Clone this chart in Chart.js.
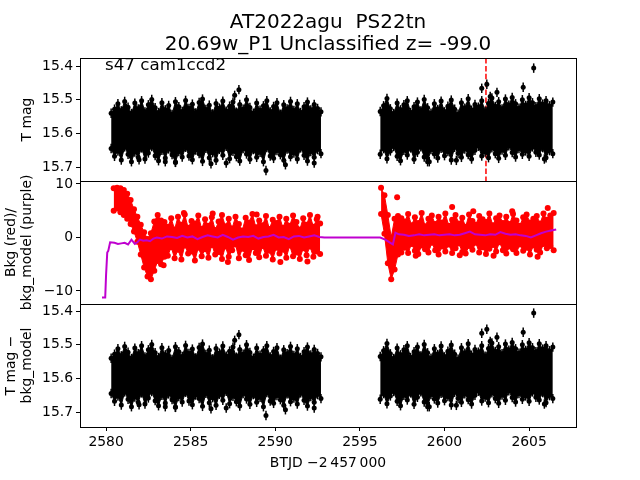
<!DOCTYPE html>
<html><head><meta charset="utf-8">
<script src="https://cdn.jsdelivr.net/npm/chart.js@4"></script>
<style>html,body{margin:0;padding:0;background:#fff}</style>
</head><body>
<canvas id="c" width="640" height="480"></canvas>
<script>
// ---------------- data ----------------
const titleLines = ['AT2022agu  PS22tn', '20.69w_P1 Unclassified z= -99.0'];
const fieldLabel = 's47 cam1ccd2';
const xTitle = 'BTJD \u22122\u2009457\u2009000';
const magTitle = ['', 'T mag'];
const bkgTitle = ['Bkg (red)/', 'bkg_model (purple)'];
const diffTitle = ['T mag \u2212', 'bkg_model'];
const xTicks = [2580, 2585, 2590, 2595, 2600, 2605];
const magTicks = [15.4, 15.5, 15.6, 15.7];
const bkgTicks = [-10, 0, 10];
const markerTime = 2602.45;

// light curve: bins of 0.2 d, brightest / faintest point centres per bin
const binStep = 0.2;
const magStartA = 2580.3, magStartB = 2596.2;
const magUpperA = [15.540,15.528,15.512,15.533,15.505,15.522,15.541,15.510,15.527,15.503,
15.536,15.515,15.499,15.524,15.538,15.509,15.530,15.517,15.544,15.506,
15.521,15.535,15.502,15.526,15.513,15.539,15.508,15.498,15.529,15.516,
15.542,15.511,15.525,15.504,15.534,15.519,15.507,15.537,15.514,15.528,
15.500,15.523,15.540,15.510,15.531,15.518,15.503,15.536,15.520,15.509,
15.543,15.515,15.527,15.505,15.532,15.512,15.538,15.521,15.507,15.530,
15.514,15.526,15.536];
const magLowerA = [15.645,15.668,15.652,15.679,15.640,15.662,15.684,15.655,15.671,15.643,
15.676,15.658,15.639,15.666,15.681,15.650,15.673,15.646,15.663,15.685,
15.654,15.670,15.641,15.667,15.678,15.649,15.660,15.683,15.644,15.672,
15.657,15.680,15.647,15.665,15.638,15.675,15.653,15.669,15.682,15.645,
15.661,15.677,15.648,15.671,15.656,15.684,15.642,15.667,15.674,15.651,
15.663,15.680,15.646,15.669,15.658,15.676,15.643,15.665,15.682,15.654,
15.671,15.648,15.660];
const magUpperB = [15.535,15.518,15.496,15.527,15.541,15.510,15.530,15.515,15.503,15.538,
15.521,15.507,15.533,15.499,15.524,15.540,15.512,15.529,15.504,15.536,
15.519,15.501,15.528,15.543,15.509,15.525,15.497,15.531,15.514,15.522,
15.503,15.534,15.511,15.495,15.520,15.506,15.527,15.498,15.516,15.493,
15.512,15.525,15.500,15.517,15.494,15.509,15.521,15.497,15.513,15.503,
15.518,15.507];
const magLowerB = [15.662,15.645,15.675,15.652,15.639,15.668,15.681,15.650,15.664,15.643,
15.677,15.656,15.640,15.670,15.684,15.648,15.661,15.673,15.644,15.666,
15.654,15.679,15.641,15.659,15.671,15.646,15.663,15.676,15.650,15.638,
15.667,15.655,15.672,15.643,15.660,15.674,15.649,15.665,15.637,15.657,
15.670,15.645,15.662,15.652,15.668,15.640,15.656,15.664,15.642,15.672,
15.651,15.660];
const magErr = 0.014;
const outT   = [2587.6,2587.85,2581.95,2586.2,2587.1,2589.45,2590.6,2592.3,2583.5,2584.1,2599.1,2600.7,2605.9,2605.27,2604.65,2602.5,2602.2,2603.1,2602.7];
const outMag = [15.487,15.470,15.678,15.690,15.688,15.710,15.693,15.688,15.684,15.686,15.684,15.680,15.676,15.406,15.463,15.454,15.466,15.478,15.490];

// background: bins of 0.2 d, highest / lowest point centres per bin
const bkgStartA = 2580.45, bkgStartB = 2596.25;
const bkgUpperA = [9.2,9.3,9.2,8.9,8.2,7.0,5.3,3.9,2.4,1.0,-0.3,0.8,3.0,4.2,3.2,2.9,
2.0,3.6,1.5,3.9,2.4,4.3,1.8,3.1,2.6,4.1,
1.6,3.4,2.2,3.8,1.4,3.0,4.2,2.1,3.5,1.7,
3.9,2.5,1.3,3.7,2.8,4.4,1.9,3.2,2.3,4.0,
1.6,3.3,2.7,3.9,1.8,3.5,2.2,4.1,2.9,1.5,
3.6,2.4,4.2,2.0,3.4,2.6];
const bkgLowerA = [5.0,5.4,4.7,4.2,3.5,2.5,1.1,-0.8,-3.2,-5.6,-7.3,-7.8,-6.2,-4.4,-5.0,-3.6,
-3.4,-1.8,-3.9,-2.3,-4.1,-1.5,-3.0,-2.6,-4.3,-1.9,
-3.5,-2.2,-3.8,-1.4,-3.2,-2.7,-4.0,-1.7,-3.6,-2.4,
-1.3,-3.9,-2.1,-3.3,-4.2,-1.8,-2.9,-3.7,-1.6,-3.4,
-2.5,-4.1,-1.9,-3.0,-2.3,-3.8,-1.5,-3.5,-2.8,-4.0,
-2.0,-3.3,-1.7,-3.6,-2.6,-3.1];
const bkgUpperB = [9.3,7.9,4.2,0.0,3.5,4.0,3.6,
3.0,4.4,2.3,3.8,2.7,4.6,2.1,3.5,4.1,2.5,
3.9,2.8,4.5,2.2,3.3,4.2,2.6,3.7,2.0,4.3,
3.1,2.4,4.0,3.4,2.9,4.5,2.3,3.6,4.1,2.7,
3.9,2.5,4.4,3.2,2.2,3.8,4.3,2.8,3.5,4.0,
2.6,4.5,3.3,4.1,4.6];
const bkgLowerB = [4.4,0.7,-4.8,-7.8,-6.0,-3.2,-2.8,
-1.9,-2.9,-1.2,-2.5,-3.1,-1.5,-2.2,-2.8,-1.0,-2.4,
-3.2,-1.7,-2.6,-1.3,-2.9,-2.0,-1.1,-2.7,-3.0,-1.6,
-2.3,-1.0,-2.8,-1.8,-3.1,-2.1,-1.4,-2.6,-0.9,-2.4,
-3.0,-1.7,-2.2,-2.9,-1.3,-2.5,-1.9,-3.2,-1.5,-2.3,
-2.8,-1.2,-2.0,-1.6,-2.4];
const bkgOutT = [2584.6,2586.3,2583.4,2587.2,2591.9,2597.2,2600.45,2604.0,2606.1,2600.9,2605.5,2588.9,2590.3,2592.5,2598.3,2602.9,2601.7];
const bkgOut  = [4.6,4.5,-5.2,-4.6,-4.5,7.5,5.7,4.9,5.5,-3.3,-3.6,4.3,-4.6,3.9,-3.4,-3.4,4.9];

// background model (purple)
const modelT = [2579.76,2579.95,2580.0,2580.07,2580.13,2580.24,2580.5,2580.7,2580.9,2581.1,2581.3,2581.5,2581.7,2581.85,2582.0,2582.2,2582.4,2582.6,2582.8,
2583.0,2583.3,2583.6,2583.9,2584.2,2584.5,2584.8,2585.1,2585.4,2585.7,2586.0,2586.3,2586.6,2586.9,2587.2,2587.5,2587.8,2588.1,2588.4,2588.7,2589.0,2589.3,2589.6,2589.9,2590.2,2590.5,2590.8,2591.1,2591.4,2591.7,2592.0,2592.3,2592.6,2592.9,
2596.2,2596.5,2596.8,2596.95,2597.1,2597.3,
2597.6,2597.9,2598.2,2598.5,2598.8,2599.1,2599.4,2599.7,2600.0,2600.3,2600.6,2600.9,2601.2,2601.5,2601.8,2602.1,2602.4,2602.7,2603.0,2603.3,2603.6,2603.9,2604.2,2604.5,2604.8,2605.1,2605.4,2605.7,2606.0,2606.3,2606.6];
const modelVal = [-11.2,-11.2,-7.0,-2.8,-2.5,-0.9,-1.0,-1.2,-1.1,-1.0,-1.3,-0.4,-1.2,-0.9,-0.4,-0.6,-0.5,-0.7,-0.2,
0.0,-0.2,0.2,0.1,-0.1,0.3,0.0,0.2,-0.3,0.1,0.4,0.2,0.0,0.5,0.1,-0.4,0.0,0.2,0.1,0.3,-0.2,0.1,0.2,0.5,0.0,0.1,-0.3,0.2,0.3,0.0,0.2,0.4,0.1,0.0,
0.0,-0.4,-1.0,-1.3,0.9,0.6,
0.5,0.3,0.4,0.6,0.4,0.5,0.6,0.4,0.5,0.6,0.4,0.5,0.8,1.1,0.6,0.5,0.4,0.6,0.5,1.0,0.7,0.5,0.6,0.4,0.3,0.0,0.4,0.8,1.1,1.3,1.5];

// ---------------- layout / style ----------------
const FONT = '"DejaVu Sans", sans-serif';
const xMin = 2578.46, xMax = 2607.77;
const magRange1 = [15.376, 15.7413];
const bkgRange = [-12.43, 10.56];
const magRange3 = [15.379, 15.7443];
const BLACK = '#000000', RED = '#ff0000', PURPLE = '#bf00cf';

function grid(start, n) { return Array.from({length: n}, (_, i) => Math.round((start + i * binStep) * 100) / 100); }
function pts(ts, vs) { return ts.map((t, i) => ({x: t, y: vs[i]})); }

const tMagA = grid(magStartA, magUpperA.length), tMagB = grid(magStartB, magUpperB.length);
const tBkgA = grid(bkgStartA, bkgUpperA.length), tBkgB = grid(bkgStartB, bkgUpperB.length);

function magDatasets(axis) {
  const base = {type: 'line', yAxisID: axis, borderColor: BLACK, backgroundColor: BLACK, pointBackgroundColor: BLACK,
    pointBorderWidth: 0, pointRadius: 2.5, borderWidth: 1, tension: 0, order: 5, errY: magErr};
  return [
    Object.assign({}, base, {data: pts(tMagA, magUpperA), fill: false}),
    Object.assign({}, base, {data: pts(tMagA, magLowerA), fill: '-1'}),
    Object.assign({}, base, {data: pts(tMagB, magUpperB), fill: false}),
    Object.assign({}, base, {data: pts(tMagB, magLowerB), fill: '-1'}),
    {type: 'scatter', yAxisID: axis, data: pts(outT, outMag), pointRadius: 2.5, pointBorderWidth: 0,
     pointBackgroundColor: BLACK, backgroundColor: BLACK, showLine: false, order: 4, errY: magErr}
  ];
}
function bkgDatasets() {
  const base = {type: 'line', yAxisID: 'y2', borderColor: RED, backgroundColor: RED, pointBackgroundColor: RED,
    pointBorderWidth: 0, pointRadius: 3, borderWidth: 1, tension: 0, order: 5};
  return [
    Object.assign({}, base, {data: pts(tBkgA, bkgUpperA), fill: false}),
    Object.assign({}, base, {data: pts(tBkgA, bkgLowerA), fill: '-1'}),
    Object.assign({}, base, {data: pts(tBkgB, bkgUpperB), fill: false}),
    Object.assign({}, base, {data: pts(tBkgB, bkgLowerB), fill: '-1'}),
    {type: 'scatter', yAxisID: 'y2', data: pts(bkgOutT, bkgOut), pointRadius: 3, pointBorderWidth: 0,
     pointBackgroundColor: RED, backgroundColor: RED, showLine: false, order: 4},
    {type: 'line', yAxisID: 'y2', data: pts(modelT, modelVal), borderColor: PURPLE, borderWidth: 2,
     pointRadius: 0, fill: false, tension: 0, order: 1}
  ];
}

const datasets = [].concat(
  magDatasets('y1'),
  [{type: 'line', yAxisID: 'y1', data: [{x: markerTime, y: magRange1[0]}, {x: markerTime, y: magRange1[1]}],
    borderColor: RED, borderWidth: 1.5, borderDash: [5.5, 2.4], pointRadius: 0, fill: false, order: 10}],
  bkgDatasets(),
  magDatasets('y3')
);

function yScale(range, tickVals, fmt, title, reverse) {
  return {
    type: 'linear', position: 'left', stack: 'panels', stackWeight: 1,
    min: range[0], max: range[1], reverse: reverse,
    afterBuildTicks: ax => { ax.ticks = tickVals.map(v => ({value: v})); },
    afterFit: ax => { ax.width = 80; },
    grid: {drawOnChartArea: false, drawTicks: true, tickLength: 4, color: BLACK, tickWidth: 1},
    border: {display: true, color: BLACK, width: 1},
    ticks: {color: BLACK, font: {family: FONT, size: 13.9}, padding: 3, autoSkip: false, callback: fmt},
    title: {display: true, text: title, color: BLACK, font: {family: FONT, size: 13.9, lineHeight: 1.2},
            padding: {top: 2.6, bottom: 0}}
  };
}
const magFmt = v => Number(v).toFixed(1);
const bkgFmt = v => (v < 0 ? '\u2212' + Math.abs(v) : String(v));

const errorBars = {
  id: 'errorBars',
  afterDatasetsDraw(chart) {
    const ctx = chart.ctx;
    ctx.save();
    ctx.strokeStyle = BLACK; ctx.lineWidth = 1.5;
    chart.data.datasets.forEach((ds, i) => {
      if (ds.errY == null) return;
      const meta = chart.getDatasetMeta(i);
      const sc = chart.scales[ds.yAxisID];
      meta.data.forEach((el, j) => {
        const v = ds.data[j].y;
        ctx.beginPath();
        ctx.moveTo(el.x, sc.getPixelForValue(v - ds.errY));
        ctx.lineTo(el.x, sc.getPixelForValue(v + ds.errY));
        ctx.stroke();
      });
    });
    ctx.restore();
  }
};
const frames = {
  id: 'frames',
  afterDraw(chart) {
    const ctx = chart.ctx, a = chart.chartArea;
    ctx.save();
    ctx.strokeStyle = BLACK; ctx.lineWidth = 1;
    ['y1', 'y2', 'y3'].forEach(id => {
      const s = chart.scales[id];
      ctx.strokeRect(Math.round(a.left) + 0.5, Math.round(s.top) + 0.5, Math.round(a.right - a.left), Math.round(s.bottom - s.top));
    });
    ctx.fillStyle = BLACK;
    ctx.font = '20px ' + FONT;
    ctx.textAlign = 'center'; ctx.textBaseline = 'alphabetic';
    const cx = (a.left + a.right) / 2;
    ctx.fillText(titleLines[0], cx, 27.5);
    ctx.fillText(titleLines[1], cx, 49.5);
    ctx.font = '16.7px ' + FONT;
    ctx.textAlign = 'left';
    ctx.fillText(fieldLabel, 105, 70);
    ctx.restore();
  }
};

new Chart(document.getElementById('c'), {
  type: 'scatter',
  data: {datasets},
  options: {
    responsive: false, animation: false, devicePixelRatio: 1,
    layout: {padding: {top: 58, right: 64, left: 0, bottom: 0}},
    plugins: {legend: {display: false}, tooltip: {enabled: false}, title: {display: false}},
    scales: {
      x: {
        type: 'linear', position: 'bottom', min: xMin, max: xMax,
        afterBuildTicks: ax => { ax.ticks = xTicks.map(v => ({value: v})); },
        afterFit: ax => { ax.height = 53; },
        grid: {drawOnChartArea: false, drawTicks: true, tickLength: 4, color: BLACK, tickWidth: 1},
        border: {display: true, color: BLACK, width: 1},
        ticks: {color: BLACK, font: {family: FONT, size: 13.9}, padding: 3, maxRotation: 0, autoSkip: false, callback: v => String(v)},
        title: {display: true, text: xTitle, color: BLACK, font: {family: FONT, size: 13.9, lineHeight: 1.2}, padding: {top: 4, bottom: 8.5}}
      },
      y3: yScale(magRange3, magTicks, magFmt, diffTitle, true),
      y2: yScale(bkgRange, bkgTicks, bkgFmt, bkgTitle, false),
      y1: yScale(magRange1, magTicks, magFmt, magTitle, true)
    }
  },
  plugins: [errorBars, frames]
});
</script>
</body></html>
